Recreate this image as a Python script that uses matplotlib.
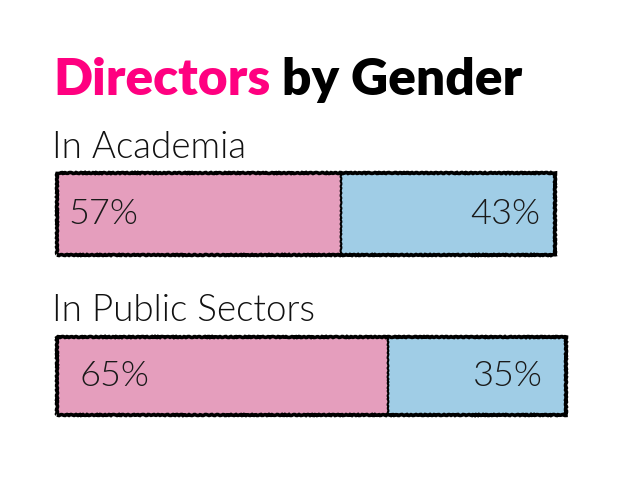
import matplotlib
matplotlib.use("Agg")
import matplotlib.pyplot as plt

# data
groups = ["In Academia", "In Public Sectors"]
women = [57, 65]
men = [43, 35]
title_hi = "Directors"
title_rest = " by Gender"

PINK = "#e59ebd"
BLUE = "#a0cde6"
MAGENTA = "#ff0080"

plt.rcParams["font.family"] = ["Lato", "DejaVu Sans"]

fig = plt.figure(figsize=(6.4, 4.8), dpi=100)

# pixel boxes of the two hand-drawn bars: (left, top, right, bottom)
boxes = [(57, 173, 555, 255), (57, 337, 566, 415)]
sub_base = [158, 321]
lab_off = [(2.2, 97.0), (4.5, 95.5)]

W, H = 640, 480
for i, (l, t, r, b) in enumerate(boxes):
    ax = fig.add_axes([l / W, 1 - b / H, (r - l) / W, (b - t) / H])
    ax.set_xlim(0, 100)
    ax.set_ylim(-0.5, 0.5)
    ax.axis("off")
    ax.barh(0, women[i], height=1.0, left=0, color=PINK, edgecolor="none")
    ax.barh(0, men[i], height=1.0, left=women[i], color=BLUE, edgecolor="none")
    seg = ax.barh(0, men[i], height=1.0, left=women[i], fill=False,
                  edgecolor="black", linewidth=1.5)
    for p in seg:
        p.set_sketch_params(scale=0.4, length=5, randomness=2)
        p.set_clip_on(False)
    outer = ax.barh(0, 100, height=1.0, left=0, fill=False,
                    edgecolor="black", linewidth=2.6)
    for p in outer:
        p.set_sketch_params(scale=0.5, length=5, randomness=2)
        p.set_clip_on(False)
    lo, ro = lab_off[i]
    ax.text(lo, 0.0, f"{women[i]}%", ha="left", va="center",
            fontsize=26, fontweight=300, color="#1a1a1a")
    ax.text(ro, 0.0, f"{men[i]}%", ha="right", va="center",
            fontsize=26, fontweight=300, color="#1a1a1a")
    fig.text(52 / W, 1 - sub_base[i] / H, groups[i], ha="left", va="baseline",
             fontsize=26.5, fontweight=300, color="#111111")

t1 = fig.text(53 / W, 1 - 95 / H, title_hi, ha="left", va="baseline",
              fontsize=37, fontweight="heavy", color=MAGENTA)
fig.canvas.draw()
bb = t1.get_window_extent()
fig.text(bb.x1 / W, 1 - 95 / H, title_rest, ha="left", va="baseline",
         fontsize=37, fontweight="heavy", color="black")

fig.savefig("out.png", dpi=100)
